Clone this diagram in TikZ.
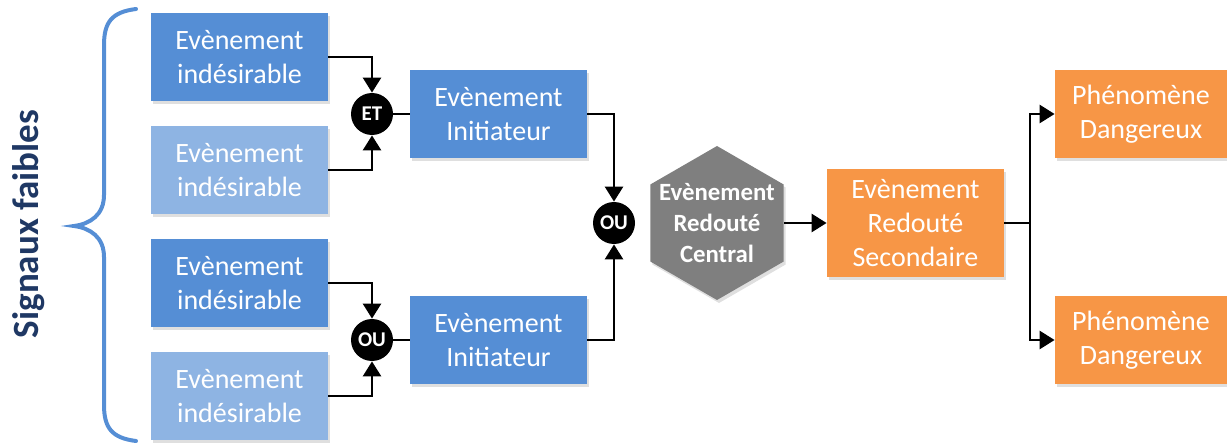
\documentclass[tikz,border=0pt]{standalone}
\usepackage{fontspec}
\setmainfont{Carlito}
\usetikzlibrary{arrows.meta,shapes.geometric,shadows}
\definecolor{bleuF}{RGB}{85,142,213}
\definecolor{bleuC}{RGB}{142,180,227}
\definecolor{orangeR}{RGB}{247,150,70}
\definecolor{grisR}{RGB}{127,127,127}
\definecolor{titreB}{RGB}{31,56,100}
\tikzset{
  ombre/.style={drop shadow={opacity=0.25,shadow xshift=1pt,shadow yshift=-1.5pt}},
  evt/.style={rectangle, text=white, minimum width=88.5pt, minimum height=44pt,
    align=center, inner sep=0pt, font=\fontsize{14}{16.8}\selectfont, ombre},
  fonce/.style={evt, fill=bleuF},
  clair/.style={evt, fill=bleuC},
  orange/.style={evt, fill=orangeR},
  porte/.style={circle, fill=black, text=white, minimum size=21pt, inner sep=0pt,
    font=\bfseries\fontsize{10.5}{11}\selectfont},
  hexa/.style={regular polygon, regular polygon sides=6, shape border rotate=30,
    minimum size=77pt, inner sep=0pt, fill=grisR, ombre},
  lien/.style={line width=1.3pt, black},
  fleche/.style={lien, -{Triangle[length=7.5pt,width=9pt]}},
}
\begin{document}
\begin{tikzpicture}[x=0.5pt,y=-0.5pt]
		%%%%% CADRE %%%%%
		\useasboundingbox (0,0) rectangle (1227,444);
		
		\node[rotate=90, text=titreB, font=\bfseries\fontsize{18.5}{22}\selectfont] (sig) at (29,224) {Signaux faibles};
		\draw[bleuF, line width=2pt, line cap=round] (136,9) .. controls (112,12) and (104,22) .. (104,45)
			-- (104,195) .. controls (104,215) and (90,224) .. (74,226)
			.. controls (90,228) and (104,237) .. (104,257)
			-- (104,405) .. controls (104,428) and (112,438) .. (136,441);
		
		%%%%% EVENEMENTS INDESIRABLES %%%%%
		\node[fonce] (i1) at (239.5,57) {Evènement\\indésirable};
		\node[clair] (i2) at (239.5,170) {Evènement\\indésirable};
		\node[fonce] (i3) at (239.5,283) {Evènement\\indésirable};
		\node[clair] (i4) at (239.5,396) {Evènement\\indésirable};
		
		\node[porte] (et) at (372,114) {ET};
		\node[porte] (ou1) at (372,340) {OU};
		
		\node[fonce] (init1) at (498.5,114) {Evènement\\Initiateur};
		\node[fonce] (init2) at (498.5,340) {Evènement\\Initiateur};
		
		\node[porte] (ou2) at (614,223) {OU};
		
		%%%%% EVENEMENT CENTRAL %%%%%
		\node[hexa] (erc) at (717,223) {};
		\node[text=white, align=center, font=\bfseries\fontsize{12.4}{15.5}\selectfont] (erct) at (erc) {Evènement\\Redouté\\Central};
		
		\node[orange, minimum height=54pt] (ers) at (915.5,223) {Evènement\\Redouté\\Secondaire};
		
		\node[orange, minimum width=86pt] (pd1) at (1141,114) {Phénomène\\Dangereux};
		\node[orange, minimum width=86pt] (pd2) at (1141,340) {Phénomène\\Dangereux};
		
		%%%%% LIENS %%%%%
		\draw[fleche] (i1.east) -| (et.north);
		\draw[fleche] (i2.east) -| (et.south);
		\draw[fleche] (i3.east) -| (ou1.north);
		\draw[fleche] (i4.east) -| (ou1.south);
		\draw[lien] (et.east) -- (init1.west);
		\draw[lien] (ou1.east) -- (init2.west);
		\draw[fleche] (init1.east) -| (ou2.north);
		\draw[fleche] (init2.east) -| (ou2.south);
		\draw[fleche] (erc.east) -- (ers.west);
		
		\coordinate (br) at (1030,223);
		\draw[lien] (ers.east) -- (br);
		\draw[fleche] (br) |- (pd1.west);
		\draw[fleche] (br) |- (pd2.west);
		
		%%%%% FIN %%%%%
\end{tikzpicture}
\end{document}
